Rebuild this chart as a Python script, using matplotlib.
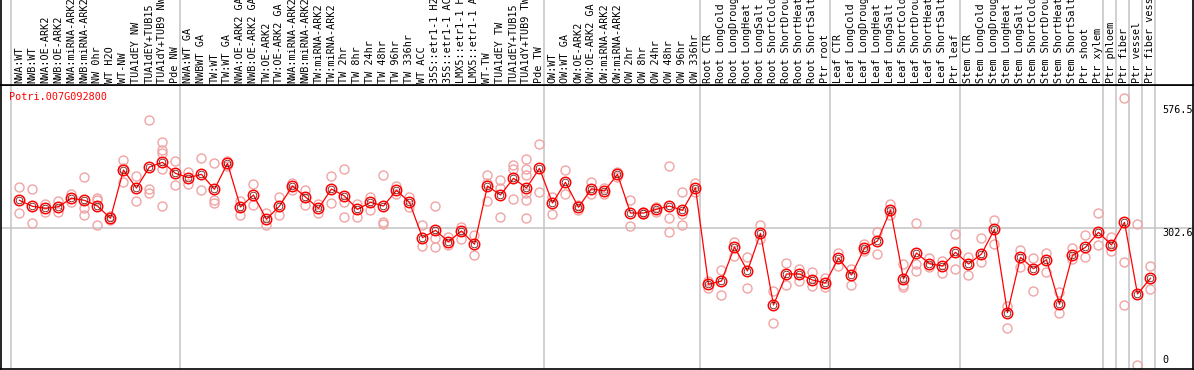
import matplotlib
matplotlib.use("Agg")
import matplotlib.pyplot as plt

gene = "Potri.007G092800"

samples = [
    "NWA:WT", "NWB:WT", "NWA:OE-ARK2", "NWB:OE-ARK2", "NWA:miRNA-ARK2", "NWB:miRNA-ARK2",
    "NW 0hr", "WT H2O", "WT-NW", "TUA1dEY NW", "TUA1dEY+TUB15", "TUA1dY+TUB9 NW", "Pde NW",
    "NWA:WT GA", "NWBWT GA", "TW:WT", "TW:WT GA", "NWA:OE-ARK2 GA", "NWB:OE-ARK2 GA",
    "TW:OE-ARK2", "TW:OE-ARK2 GA", "NWA:miRNA-ARK2", "NWB:miRNA-ARK2", "TW:miRNA-ARK2",
    "TW:miRNA-ARK2", "TW 2hr", "TW 8hr", "TW 24hr", "TW 48hr", "TW 96hr", "TW 336hr",
    "WT ACC", "35S::etr1-1 H2", "35S::etr1-1 AC", "LMX5::etr1-1 H", "LMX5::etr1-1 A",
    "WT-TW", "TUA1dEY TW", "TUA1dEY+TUB15", "TUA1dY+TUB9 TW", "Pde TW",
    "OW:WT", "OW:WT GA", "OW:OE-ARK2", "OW:OE-ARK2 GA", "OW:miRNA-ARK2", "OW:miRNA-ARK2",
    "OW 2hr", "OW 8hr", "OW 24hr", "OW 48hr", "OW 96hr", "OW 336hr",
    "Root CTR", "Root LongCold", "Root LongDroug", "Root LongHeat", "Root LongSalt",
    "Root ShortCold", "Root ShortDrou", "Root ShortHeat", "Root ShortSalt", "Ptr root",
    "Leaf CTR", "Leaf LongCold", "Leaf LongDroug", "Leaf LongHeat", "Leaf LongSalt",
    "Leaf ShortCold", "Leaf ShortDrou", "Leaf ShortHeat", "Leaf ShortSalt", "Ptr leaf",
    "Stem CTR", "Stem LongCold", "Stem LongDroug", "Stem LongHeat", "Stem LongSalt",
    "Stem ShortCold", "Stem ShortDrou", "Stem ShortHeat", "Stem ShortSalt", "Ptr shoot",
    "Ptr xylem", "Ptr phloem", "Ptr fiber", "Ptr vessel", "Ptr fiber vess",
]

group_sizes = [13, 28, 12, 10, 10, 11, 1, 1, 1, 1]

means = [
    364.5, 351.3, 346.8, 350.4, 369.0, 364.5, 351.9, 324.7, 431.6, 391.8,
    438.3, 448.7, 424.3, 414.6, 422.1, 388.9, 446.4, 349.7, 376.3, 322.5,
    351.9, 396.2, 371.9, 346.8, 389.6, 374.1, 344.6, 360.1, 351.9, 386.7,
    360.1, 281.8, 298.1, 272.9, 296.6, 267.2, 396.2, 376.3, 413.2, 391.8,
    435.4, 358.6, 404.4, 349.1, 390.2, 385.1, 422.1, 336.4, 336.4, 344.6,
    351.9, 342.4, 392.4, 178.6, 185.9, 261.2, 208.1, 291.5, 132.8, 201.4,
    201.4, 188.1, 181.5, 236.8, 199.2, 259.0, 274.5, 343.1, 190.4, 247.9,
    224.2, 219.1, 249.4, 223.6, 245.7, 300.4, 115.8, 238.4, 213.1, 233.1,
    134.4, 242.8, 260.5, 293.7, 265.6, 315.9, 157.2, 191.9,
]

replicates = [
    [393.3, 336.4], [388.9, 314.3], [357.0, 338.0], [363.0, 339.3], [379.2, 361.4],
    [415.5, 346.8, 332.0], [370.3, 365.2, 309.9], [329.8, 320.9], [453.7, 436.7, 405.7],
    [418.3, 363.0], [542.3, 389.6, 380.0], [493.6, 475.2, 468.6, 433.2, 351.9],
    [450.9, 398.4], [426.5, 400.0], [458.2, 386.7], [446.4, 365.2, 359.2], [440.0, 452.0],
    [363.0, 332.7], [400.6, 354.1], [335.8, 309.2], [371.2, 332.0], [402.2, 386.7],
    [387.3, 353.5], [356.4, 336.4], [418.3, 358.6], [433.8, 361.4, 326.9], [356.4, 326.9],
    [371.9, 343.7], [420.5, 317.2, 312.8], [396.2, 378.5], [371.2, 349.1], [309.9, 264.1],
    [351.3, 280.4, 260.5], [282.6, 265.6], [304.8, 279.6], [287.7, 242.8],
    [419.9, 402.2, 362.3], [408.8, 391.1, 326.9], [442.7, 433.8, 366.8],
    [456.0, 433.2, 420.5, 381.4, 365.2, 324.7], [488.5, 382.3], [372.5, 334.2],
    [431.0, 377.8], [354.1, 343.1], [405.1, 378.5], [392.4, 378.5], [426.5, 416.8],
    [364.5, 307.0], [339.3, 333.6], [350.4, 339.3], [440.5, 324.7, 293.7],
    [382.3, 334.2, 309.2], [402.8, 382.9], [186.6, 171.1], [210.3, 154.3], [271.6, 241.9],
    [238.4, 169.8], [309.9, 278.2], [163.1, 93.0], [225.1, 176.4], [211.8, 186.6],
    [205.8, 174.2], [191.9, 172.0], [248.6, 218.5], [213.1, 176.4], [267.2, 252.3],
    [295.0, 245.0], [356.4, 331.3], [223.6, 177.1, 172.0], [313.6, 223.6, 208.1],
    [236.2, 216.9], [230.9, 203.0], [290.0, 211.8], [239.0, 199.9], [280.4, 228.6],
    [320.9, 267.8], [131.3, 81.2], [254.5, 217.6], [236.2, 163.8], [247.9, 205.2],
    [160.9, 115.8], [259.0, 234.6], [287.7, 238.4], [336.4, 265.6], [282.6, 251.7],
    [590.3, 227.3, 132.8], [311.4, 0.0], [218.5, 167.6],
]

y_ticks = [576.5, 302.6, 0]
ref_line = 302.6

W, H = 1194, 370
fig = plt.figure(figsize=(W / 100, H / 100), dpi=100)
mono = "DejaVu Sans Mono"
grey = "#c4c4c4"

ax = fig.add_axes([1 / W, 1 / H, 1192 / W, 284 / H])
ax_lab = fig.add_axes([1 / W, 285 / H, 1192 / W, 85 / H], sharex=ax)

x = list(range(1, len(samples) + 1))
ax.set_xlim(-0.42, 91.27)
ax.set_ylim(-8.9, 619.8)

# group separators
edge = 0
seps = [edge]
for g in group_sizes:
    edge += g
    seps.append(edge)
for s in seps:
    ax.axvline(s + 0.35, color=grey, lw=1.1, zorder=0)
    ax_lab.axvline(s + 0.35, color=grey, lw=1.1, zorder=0)

ax.axhline(ref_line, color=grey, lw=1.1, zorder=0)

# replicates
for xi, reps in zip(x, replicates):
    ax.plot([xi] * len(reps), reps, linestyle="none", marker="o", ms=6.5,
            mfc="none", mec="#f0a4a4", mew=1.0, zorder=2)

# means
ax.plot(x, means, color="red", lw=0.9, zorder=3)
ax.plot(x, means, linestyle="none", marker="o", ms=7.5, mfc="none",
        mec="red", mew=1.1, zorder=4)
ax.plot(x, means, linestyle="none", marker="o", ms=4.8, mfc="none",
        mec="#500000", mew=0.5, zorder=5)

ax.text(0.007, 0.957, gene, transform=ax.transAxes, color="red",
        family=mono, fontsize=7.3, va="center", ha="left")

for v in y_ticks:
    ax.text(0.9746, v, str(v), transform=ax.get_yaxis_transform(), family=mono,
            fontsize=7.3, ha="left", va="bottom" if v == 0 else "top")

for xi, name in zip(x, samples):
    ax_lab.text(xi, 2 / 85, name, rotation=90, ha="center", va="bottom",
                family=mono, fontsize=7.3, transform=ax_lab.get_xaxis_transform(),
                clip_on=True)

for a in (ax, ax_lab):
    a.set_xticks([])
    a.set_yticks([])
    for sp in a.spines.values():
        sp.set_linewidth(1.2)
        sp.set_color("black")
ax_lab.spines["top"].set_visible(False)
ax_lab.set_ylim(0, 1)

fig.savefig("out.png", dpi=100)
